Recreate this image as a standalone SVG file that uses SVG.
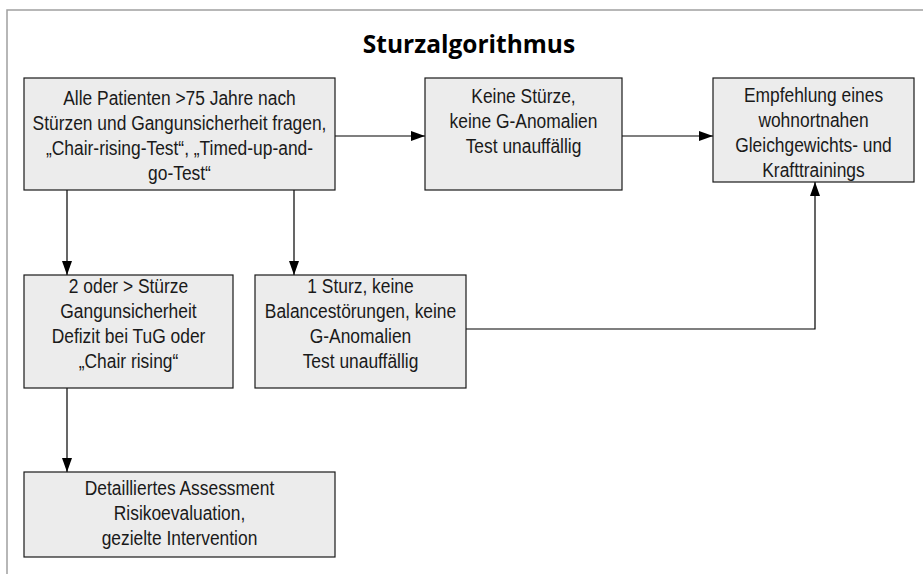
<svg xmlns="http://www.w3.org/2000/svg" width="923" height="574" viewBox="0 0 923 574">
<style>
.box{fill:#ececec;stroke:#1a1a1a;stroke-width:1.2}
.t{font-family:"Liberation Sans",Arial,sans-serif;font-size:20px;fill:#1a1a1a;text-anchor:middle}
.title{font-family:"Open Sans","Liberation Sans",sans-serif;font-weight:bold;font-size:24.5px;fill:#000;text-anchor:middle}
.c{fill:none;stroke:#000;stroke-width:1.2}
</style>
<defs>
<marker id="ah" markerWidth="14" markerHeight="10" refX="14" refY="5" orient="auto" markerUnits="userSpaceOnUse">
<path d="M0,0 L14,5 L0,10 Z" fill="#000"/>
</marker>
</defs>
<rect x="0" y="0" width="923" height="574" fill="#fff"/>
<path d="M7,574 L7,10 L923,10" fill="none" stroke="#a0a0a0" stroke-width="1.5"/>
<text class="title" x="469" y="53">Sturzalgorithmus</text>
<g id="connectors">
<line class="c" x1="335" y1="136" x2="425" y2="136" marker-end="url(#ah)"/>
<line class="c" x1="622" y1="136" x2="713" y2="136" marker-end="url(#ah)"/>
<line class="c" x1="67" y1="190" x2="67" y2="275" marker-end="url(#ah)"/>
<line class="c" x1="294" y1="190" x2="294" y2="275" marker-end="url(#ah)"/>
<polyline class="c" points="466,329 815,329 815,182" marker-end="url(#ah)"/>
<line class="c" x1="67" y1="388" x2="67" y2="472" marker-end="url(#ah)"/>
</g>
<g id="n1">
<rect class="box" x="24" y="78" width="311" height="112"/>
<g transform="translate(179.5,0) scale(0.87,1)">
<text class="t" x="0" y="105">Alle Patienten &gt;75 Jahre nach</text>
<text class="t" x="0" y="130">Stürzen und Gangunsicherheit fragen,</text>
<text class="t" x="0" y="155">„Chair-rising-Test“, „Timed-up-and-</text>
<text class="t" x="0" y="180">go-Test“</text>
</g>
</g>
<g id="n2">
<rect class="box" x="425" y="78" width="197" height="112"/>
<g transform="translate(523.5,0) scale(0.87,1)">
<text class="t" x="0" y="103">Keine Stürze,</text>
<text class="t" x="0" y="128">keine G-Anomalien</text>
<text class="t" x="0" y="153">Test unauffällig</text>
</g>
</g>
<g id="n3">
<rect class="box" x="713" y="78" width="201" height="104"/>
<g transform="translate(813.5,0) scale(0.87,1)">
<text class="t" x="0" y="102">Empfehlung eines</text>
<text class="t" x="0" y="127">wohnortnahen</text>
<text class="t" x="0" y="152">Gleichgewichts- und</text>
<text class="t" x="0" y="177">Krafttrainings</text>
</g>
</g>
<g id="n4">
<rect class="box" x="24" y="275" width="209" height="113"/>
<g transform="translate(128.5,0) scale(0.87,1)">
<text class="t" x="0" y="293">2 oder &gt; Stürze</text>
<text class="t" x="0" y="318">Gangunsicherheit</text>
<text class="t" x="0" y="343">Defizit bei TuG oder</text>
<text class="t" x="0" y="368">„Chair rising“</text>
</g>
</g>
<g id="n5">
<rect class="box" x="255" y="275" width="211" height="113"/>
<g transform="translate(360.5,0) scale(0.87,1)">
<text class="t" x="0" y="293">1 Sturz, keine</text>
<text class="t" x="0" y="318">Balancestörungen, keine</text>
<text class="t" x="0" y="343">G-Anomalien</text>
<text class="t" x="0" y="368">Test unauffällig</text>
</g>
</g>
<g id="n6">
<rect class="box" x="24" y="472" width="311" height="85"/>
<g transform="translate(179.5,0) scale(0.87,1)">
<text class="t" x="0" y="495">Detailliertes Assessment</text>
<text class="t" x="0" y="520">Risikoevaluation,</text>
<text class="t" x="0" y="545">gezielte Intervention</text>
</g>
</g>
</svg>
